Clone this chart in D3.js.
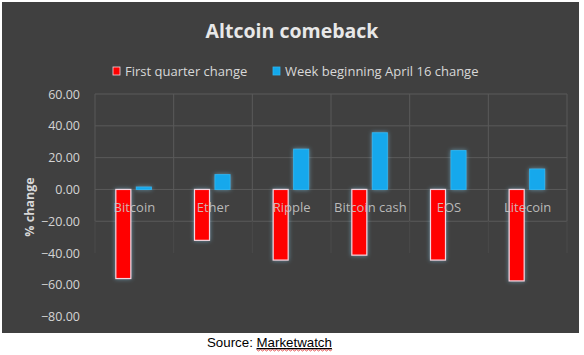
<!DOCTYPE html>
<html><head><meta charset="utf-8">
<script src="https://cdn.jsdelivr.net/npm/d3@7"></script>
<style>body{margin:0;background:#fff;}svg{display:block;}</style>
</head><body>
<svg id="c" width="584" height="355"></svg>
<script>
const categories = ["Bitcoin","Ether","Ripple","Bitcoin cash","EOS","Litecoin"];
const firstQuarter = [-56, -32, -44.4, -41.3, -44.4, -57.5];
const weekApril16 = [1.5, 9.3, 25.3, 35.6, 24.4, 12.8];
const yTicks = [60,40,20,0,-20,-40,-60,-80];
const seriesNames = ["First quarter change","Week beginning April 16 change"];
const colors = ["#ff0000","#12a8ec"];

const svg = d3.select("#c");
const defs = svg.append("defs");
const f = defs.append("filter").attr("id","glow").attr("x","-50%").attr("y","-50%").attr("width","200%").attr("height","200%");
f.append("feGaussianBlur").attr("in","SourceAlpha").attr("stdDeviation",2).attr("result","b");
f.append("feFlood").attr("flood-color","#7fc8e8").attr("flood-opacity",0.6).attr("result","c");
f.append("feComposite").attr("in","c").attr("in2","b").attr("operator","in").attr("result","g");
const m = f.append("feMerge"); m.append("feMergeNode").attr("in","g"); m.append("feMergeNode").attr("in","SourceGraphic");

svg.append("rect").attr("x",2).attr("y",2).attr("width",577).attr("height",331).attr("fill","#404040");

const x = d3.scaleBand().domain(categories).range([95,567]).padding(0);
const y = d3.scaleLinear().domain([-80,60]).range([316.7,94]);

// grid
const g = svg.append("g");
g.selectAll("line.h").data(yTicks.filter(t=>t>=-20)).join("line")
  .attr("x1",95).attr("x2",567).attr("y1",d=>y(d)).attr("y2",d=>y(d))
  .attr("stroke","#5a5a5a").attr("stroke-width",1);
const bounds = categories.map(c=>x(c)).concat([x.range()[1]]);
g.selectAll("line.v").data(bounds).join("line")
  .attr("x1",d=>d).attr("x2",d=>d).attr("y1",y(60)).attr("y2",y(-20))
  .attr("stroke","#595959");
g.selectAll("line.v2").data(bounds).join("line")
  .attr("x1",d=>d).attr("x2",d=>d).attr("y1",y(-20)).attr("y2",y(-40))
  .attr("stroke","#4a4a4a");

// y axis labels
svg.append("g").selectAll("text").data(yTicks).join("text")
  .attr("x",80).attr("y",d=>y(d)+4.5).attr("text-anchor","end")
  .attr("font-family","Open Sans, sans-serif").attr("font-size",12.5).attr("fill","#d4d4d4")
  .text(d=>d3.format(".2f")(d));

svg.append("text").attr("transform",`translate(34,207) rotate(-90)`)
  .attr("text-anchor","middle").attr("font-family","Open Sans, sans-serif").attr("font-weight","bold")
  .attr("font-size",12.5).attr("fill","#d8d8d8").text("% change");

// bars
const bw = 15;
const bars = svg.append("g").attr("filter","url(#glow)");
categories.forEach((c,i)=>{
  const cx = x(c)+x.bandwidth()/2;
  const v1 = firstQuarter[i], v2 = weekApril16[i];
  bars.append("rect").attr("x",cx-18.5).attr("width",bw)
    .attr("y",y(Math.max(0,v1))).attr("height",Math.abs(y(v1)-y(0)))
    .attr("fill",colors[0]).attr("stroke","#f3d6e0").attr("stroke-width",1.2);
  bars.append("rect").attr("x",cx+2).attr("width",bw)
    .attr("y",y(Math.max(0,v2))).attr("height",Math.abs(y(v2)-y(0)))
    .attr("fill",colors[1]).attr("stroke","#2db4f0").attr("stroke-width",1);
});

// category labels
svg.append("g").selectAll("text").data(categories).join("text")
  .attr("x",d=>x(d)+x.bandwidth()/2).attr("y",212).attr("text-anchor","middle")
  .attr("font-family","Open Sans, sans-serif").attr("font-size",13).attr("fill","#cccccc").attr("fill-opacity",0.88)
  .text(d=>d);

// title
svg.append("text").attr("x",292).attr("y",38).attr("text-anchor","middle")
  .attr("font-family","Open Sans, sans-serif").attr("font-weight","bold").attr("font-size",19.5)
  .attr("fill","#e8e8e8").text("Altcoin comeback");

// legend
const leg = [{x:113,tx:125},{x:273,tx:285}];
seriesNames.forEach((n,i)=>{
  svg.append("rect").attr("x",leg[i].x).attr("y",67).attr("width",7).attr("height",8)
    .attr("fill",colors[i]).attr("stroke",i===0?"#f3d6e0":"#2db4f0").attr("stroke-width",0.8);
  svg.append("text").attr("x",leg[i].tx).attr("y",75.5)
    .attr("font-family","Open Sans, sans-serif").attr("font-size",13).attr("fill","#d8d8d8").text(n);
});

// source
const src = svg.append("text").attr("x",207).attr("y",347)
  .attr("font-family","Liberation Sans, Arial, sans-serif").attr("font-size",13.3).attr("fill","#000");
src.append("tspan").text("Source: ");
const mk = src.append("tspan").attr("text-decoration","underline").text("Marketwatch");
const sx = 207 + src.node().getSubStringLength(0, 8);
const ex = 207 + src.node().getComputedTextLength();
let p = `M${sx},349.5`;
for (let xx = sx, k = 0; xx < ex; xx += 2, k++) p += `L${Math.min(xx+2,ex)},${k%2===0?351:349.5}`;
svg.append("path").attr("d",p).attr("fill","none").attr("stroke","#e03030").attr("stroke-width",0.8);
</script>
</body></html>
